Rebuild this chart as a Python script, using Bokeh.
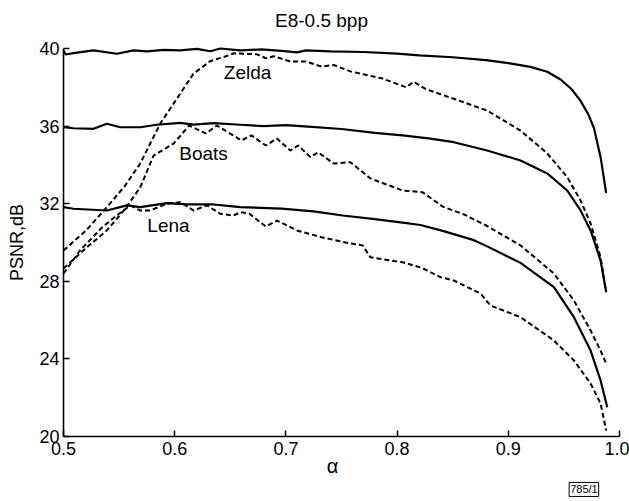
from bokeh.plotting import figure
from bokeh.models import Label, FixedTicker, Range1d
from bokeh.embed import file_html
from bokeh.resources import INLINE

# ---------------- data ----------------
x_ticks = [0.5, 0.6, 0.7, 0.8, 0.9, 1.0]
x_tick_labels = ["0.5", "0.6", "0.7", "0.8", "0.9", "1.0"]
y_ticks = [20, 24, 28, 32, 36, 40]

zelda_solid_a = [0.5, 0.502, 0.509, 0.527, 0.548, 0.563, 0.575, 0.59, 0.605, 0.62, 0.632, 0.641,
                 0.659, 0.678, 0.696, 0.71, 0.718, 0.74, 0.77, 0.8, 0.82, 0.85, 0.88, 0.9, 0.92,
                 0.935, 0.947, 0.957, 0.965, 0.972, 0.977, 0.983, 0.988]
zelda_solid_p = [39.9, 39.69, 39.76, 39.9, 39.73, 39.9, 39.85, 39.93, 39.9, 39.98, 39.86, 40.0,
                 39.9, 39.95, 39.88, 39.8, 39.9, 39.85, 39.82, 39.74, 39.65, 39.55, 39.4, 39.25, 39.05,
                 38.8, 38.4, 37.9, 37.3, 36.6, 35.9, 34.4, 32.55]

zelda_dash_a = [0.5, 0.52, 0.539, 0.555, 0.569, 0.587, 0.599, 0.617, 0.632, 0.646, 0.653, 0.674,
                0.682, 0.689, 0.704, 0.718, 0.732, 0.743, 0.758, 0.787, 0.808, 0.815, 0.826, 0.851,
                0.881, 0.911, 0.935, 0.953, 0.965, 0.974, 0.983, 0.988]
zelda_dash_p = [29.59, 30.6, 31.82, 32.9, 34.07, 36.13, 37.16, 38.71, 39.35, 39.6, 39.75, 39.7,
                39.5, 39.6, 39.33, 39.33, 39.07, 39.15, 38.82, 38.45, 38.0, 38.28, 37.9, 37.41,
                36.8, 35.77, 34.59, 33.37, 32.16, 30.98, 29.24, 27.44]

boats_solid_a = [0.5, 0.509, 0.527, 0.539, 0.551, 0.569, 0.584, 0.605, 0.617, 0.635, 0.659, 0.68,
                 0.70, 0.72, 0.75, 0.78, 0.805, 0.83, 0.851, 0.881, 0.911, 0.935, 0.953, 0.965,
                 0.974, 0.983, 0.988]
boats_solid_p = [35.94, 35.89, 35.86, 36.12, 35.94, 35.94, 36.07, 36.17, 36.08, 36.15, 36.07, 36.0,
                 36.05, 35.97, 35.85, 35.65, 35.52, 35.35, 35.17, 34.74, 34.23, 33.56, 32.68, 31.65,
                 30.62, 29.07, 27.44]

boats_dash_a = [0.5, 0.52, 0.539, 0.555, 0.569, 0.581, 0.599, 0.613, 0.628, 0.638, 0.66, 0.669,
                0.682, 0.692, 0.704, 0.711, 0.722, 0.729, 0.743, 0.758, 0.776, 0.805, 0.823, 0.841,
                0.86, 0.881, 0.911, 0.941, 0.959, 0.974, 0.983, 0.988]
boats_dash_p = [28.66, 29.7, 30.62, 31.7, 32.84, 34.48, 35.10, 36.03, 35.62, 36.03, 35.26, 35.52,
                35.0, 35.36, 34.74, 35.0, 34.40, 34.65, 34.07, 34.14, 33.30, 32.68, 32.59, 31.85,
                31.45, 30.85, 29.85, 28.40, 27.01, 25.46, 24.43, 23.76]

lena_solid_a = [0.5, 0.509, 0.539, 0.557, 0.569, 0.593, 0.611, 0.635, 0.659, 0.696, 0.725, 0.751,
                0.78, 0.805, 0.821, 0.841, 0.869, 0.881, 0.911, 0.941, 0.959, 0.974, 0.983, 0.989]
lena_solid_p = [31.82, 31.74, 31.65, 31.91, 31.82, 32.03, 31.96, 31.96, 31.82, 31.75, 31.6, 31.39,
                31.2, 31.02, 30.9, 30.6, 30.12, 29.8, 28.95, 27.7, 26.15, 24.43, 22.89, 21.51]

lena_dash_a = [0.5, 0.515, 0.535, 0.548, 0.56, 0.569, 0.578, 0.593, 0.605, 0.617, 0.629, 0.641,
               0.653, 0.659, 0.667, 0.682, 0.692, 0.71, 0.732, 0.758, 0.769, 0.776, 0.805, 0.822,
               0.839, 0.851, 0.875, 0.884, 0.911, 0.941, 0.959, 0.974, 0.983, 0.988]
lena_dash_p = [28.4, 29.6, 30.79, 31.4, 31.91, 31.65, 31.65, 32.0, 32.08, 31.65, 31.91, 31.48,
               31.39, 31.56, 31.49, 30.82, 31.13, 30.62, 30.27, 29.95, 29.85, 29.24, 28.98, 28.7,
               28.21, 28.04, 27.37, 26.75, 26.15, 24.95, 23.92, 22.73, 21.70, 20.31]

curve_names = ["Zelda", "Boats", "Lena"]

# ---------------- figure ----------------
FONT = "Liberation Sans"
X_MIN, X_MAX = 0.5, 1.0
Y_MIN, Y_MAX = 20, 40

# frame covers the whole canvas; the axes are pinned at alpha=0.5 and PSNR=20
p = figure(width=629, height=501,
           x_range=Range1d(0.44335, 1.00899), y_range=Range1d(16.649, 42.474),
           output_backend="svg", toolbar_location=None, min_border=0)
p.outline_line_color = None
p.grid.visible = False
p.background_fill_color = "white"
p.border_fill_color = "white"

for ax in (p.xaxis[0], p.yaxis[0]):
    ax.axis_line_color = "black"
    ax.axis_line_width = 1.6
    ax.major_tick_in = 6
    ax.major_tick_out = 0
    ax.major_tick_line_color = "black"
    ax.major_tick_line_width = 1.5
    ax.minor_tick_line_color = None
    ax.major_label_text_font = FONT
    ax.major_label_text_font_size = "18px"
    ax.major_label_text_color = "black"

p.xaxis.fixed_location = Y_MIN
p.xaxis.bounds = (X_MIN, X_MAX)
p.xaxis.ticker = FixedTicker(ticks=x_ticks)
p.xaxis.major_label_overrides = {t: l for t, l in zip(x_ticks, x_tick_labels)}
p.xaxis.major_label_standoff = 6

p.yaxis.fixed_location = X_MIN
p.yaxis.bounds = (Y_MIN, Y_MAX)
p.yaxis.ticker = FixedTicker(ticks=y_ticks)
p.yaxis.major_label_standoff = 4
p.yaxis.axis_label = "PSNR,dB"
p.yaxis.axis_label_text_font = FONT
p.yaxis.axis_label_text_font_style = "normal"
p.yaxis.axis_label_text_font_size = "18px"
p.yaxis.axis_label_text_color = "black"
p.yaxis.axis_label_standoff = 9

solid = dict(line_color="black", line_width=2.2)
dashed = dict(line_color="black", line_width=2.0, line_dash="5 3")

p.line(zelda_solid_a, zelda_solid_p, **solid)
p.line(boats_solid_a, boats_solid_p, **solid)
p.line(lena_solid_a, lena_solid_p, **solid)
p.line(zelda_dash_a, zelda_dash_p, **dashed)
p.line(boats_dash_a, boats_dash_p, **dashed)
p.line(lena_dash_a, lena_dash_p, **dashed)

# curve name labels
name_pos = [(0.6655, 38.76), (0.6259, 34.61), (0.5944, 30.88)]
for name, (lx, ly) in zip(curve_names, name_pos):
    p.add_layout(Label(x=lx, y=ly, text=name, text_align="center", text_baseline="middle",
                       text_font=FONT, text_font_size="19px", text_color="black"))

# title
p.add_layout(Label(x=0.732, y=41.42, text="E8-0.5 bpp", text_align="center",
                   text_baseline="middle", text_font=FONT, text_font_size="19px",
                   text_color="black"))
# x axis label
p.add_layout(Label(x=0.742, y=18.5, text="α", text_align="center",
                   text_baseline="middle", text_font=FONT, text_font_size="20px",
                   text_color="black"))
# figure id box
p.add_layout(Label(x=0.968, y=17.27, text="785/1", text_align="center",
                   text_baseline="middle", text_font=FONT, text_font_size="11px",
                   text_color="black", border_line_color="black", border_line_width=1,
                   background_fill_color="white", padding=1))

open("out.html", "w").write(file_html(p, INLINE))
